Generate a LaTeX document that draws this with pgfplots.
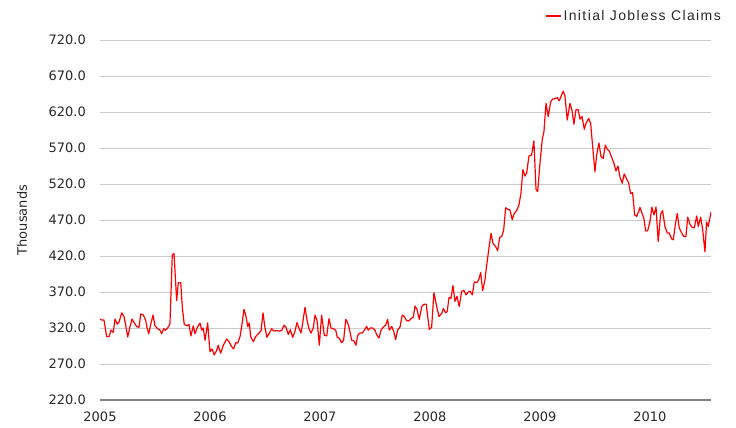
\documentclass[border=0pt]{standalone}
\usepackage{fontspec}
\setmainfont{DejaVu Sans}
\newfontfamily\legfont[LetterSpace=10]{Liberation Sans}
\usepackage{pgfplots}
\pgfplotsset{compat=1.18}
\usepackage{pgfplotstable}
\definecolor{gridgray}{RGB}{204,204,204}
\definecolor{axisgray}{RGB}{128,128,128}
\definecolor{txtgray}{RGB}{40,40,40}
\pgfplotstableread{
x y
2005.000 332.5
2005.015 331
2005.036 331
2005.061 308
2005.082 308
2005.100 317
2005.121 314
2005.136 332.5
2005.157 325.5
2005.173 328
2005.197 341
2005.218 336
2005.234 324
2005.252 307.5
2005.273 322
2005.291 332.5
2005.312 327
2005.334 322
2005.355 321
2005.370 339.5
2005.394 338
2005.415 331
2005.427 321
2005.443 312
2005.464 327
2005.482 338
2005.500 323
2005.525 319
2005.545 317
2005.561 312
2005.579 319
2005.597 317
2005.615 320
2005.636 325.5
2005.657 421
2005.673 423.7
2005.697 358
2005.712 383
2005.734 383
2005.748 349.6
2005.766 325
2005.788 323
2005.809 325
2005.827 309
2005.848 323
2005.864 312
2005.885 321
2005.909 327
2005.925 317
2005.939 320
2005.955 303
2005.979 327
2006.000 287
2006.018 291
2006.039 282.5
2006.061 289
2006.075 296
2006.097 285
2006.121 296
2006.152 304.7
2006.173 301
2006.197 294
2006.215 291
2006.234 299.6
2006.252 299
2006.273 308
2006.288 322
2006.309 346
2006.325 338
2006.343 322
2006.357 327
2006.370 308
2006.394 301
2006.415 308
2006.439 312
2006.464 316
2006.482 341
2006.500 320
2006.518 307
2006.539 313
2006.561 319
2006.582 315.6
2006.606 316.6
2006.627 315.6
2006.652 316.6
2006.673 324
2006.691 321
2006.712 311
2006.730 317.6
2006.752 307
2006.773 315.6
2006.791 327.5
2006.809 320
2006.827 313
2006.843 327
2006.864 348.7
2006.882 331
2006.900 319
2006.918 313
2006.939 320
2006.955 338
2006.973 331
2006.994 296
2007.015 338
2007.039 310
2007.061 309
2007.082 333
2007.100 320
2007.121 319
2007.143 317
2007.157 307
2007.175 306
2007.197 299.6
2007.215 303
2007.234 332
2007.252 327
2007.266 320
2007.288 303
2007.309 302
2007.327 296
2007.343 310
2007.364 313
2007.385 313
2007.403 317
2007.425 322
2007.439 317
2007.457 320
2007.479 320
2007.500 317
2007.518 310
2007.536 306
2007.555 317
2007.575 321
2007.597 324
2007.615 332
2007.630 317
2007.652 322
2007.670 315.6
2007.688 304
2007.706 317
2007.727 321
2007.748 338
2007.766 336
2007.788 330
2007.809 330
2007.827 333
2007.848 335
2007.864 350.6
2007.882 346
2007.903 332
2007.925 349.6
2007.945 353
2007.966 353
2007.994 318
2008.015 321
2008.036 369
2008.061 350
2008.082 336
2008.106 340
2008.121 347
2008.143 341
2008.157 343
2008.173 362.6
2008.191 361
2008.209 379
2008.227 357
2008.245 364
2008.266 350
2008.288 371
2008.309 372
2008.327 366
2008.348 370
2008.366 371
2008.385 366
2008.403 384
2008.425 383
2008.443 387
2008.461 397
2008.479 372
2008.500 387
2008.518 410
2008.536 430.7
2008.555 451.5
2008.573 437.6
2008.597 433
2008.615 427.5
2008.634 446
2008.652 447
2008.670 456
2008.688 487
2008.706 485
2008.727 484
2008.748 470.5
2008.766 479
2008.788 483
2008.809 491
2008.827 507
2008.845 540
2008.864 531
2008.879 535
2008.900 559
2008.923 560
2008.945 580
2008.964 512.6
2008.979 509.5
2009.000 548.7
2009.021 582
2009.036 592.5
2009.055 632
2009.075 613.5
2009.097 634
2009.115 638
2009.136 638.5
2009.157 640
2009.175 635.6
2009.197 643.6
2009.212 649
2009.227 642
2009.248 609
2009.273 632
2009.291 622.6
2009.309 603
2009.327 623
2009.348 623
2009.364 610
2009.382 614
2009.403 596
2009.418 604
2009.443 611
2009.461 604
2009.479 572
2009.500 537
2009.515 560
2009.536 577
2009.555 558
2009.575 555.6
2009.594 574
2009.612 568
2009.630 566
2009.652 557
2009.673 548.7
2009.691 538
2009.709 545
2009.727 530
2009.748 521
2009.766 534
2009.788 527
2009.806 521.6
2009.824 507
2009.842 508
2009.861 477
2009.879 475
2009.900 483
2009.909 487.6
2009.945 472
2009.961 454.7
2009.979 455
2010.000 468
2010.018 488
2010.036 477
2010.055 488
2010.075 440
2010.097 478
2010.115 483
2010.136 461
2010.157 452
2010.175 452
2010.197 443.6
2010.212 442.6
2010.230 463
2010.248 479
2010.266 459
2010.288 452
2010.309 447
2010.327 447
2010.343 474
2010.364 464
2010.382 460
2010.403 459
2010.425 475.6
2010.439 461
2010.461 474
2010.479 457
2010.500 426
2010.515 467
2010.530 461
2010.555 481
}\claims
\begin{document}
\begin{tikzpicture}
\useasboundingbox (0,0) rectangle (736bp,428bp);
\begin{axis}[
  at={(100bp,28bp)}, anchor=south west,
  scale only axis,
  width=611bp, height=360bp,
  xmin=2005, xmax=2010.555,
  ymin=220, ymax=720,
  xtick={2005,2006,2007,2008,2009,2010},
  xticklabels={2005,2006,2007,2008,2009,2010},
  ytick={220,270,320,370,420,470,520,570,620,670,720},
  y tick label style={/pgf/number format/fixed, /pgf/number format/fixed zerofill, /pgf/number format/precision=1, /pgf/number format/assume math mode=true},
  major tick length=0pt,
  ymajorgrids,
  grid style={gridgray, line width=1bp},
  separate axis lines,
  axis x line*=bottom,
  axis y line*=left,
  y axis line style={draw=none},
  x axis line style={axisgray, line width=1.6bp, -},
  tick label style={font=\fontsize{13bp}{15bp}\selectfont, text=txtgray, inner sep=0pt},
  yticklabel style={anchor=east, xshift=-14bp},
  xticklabel style={anchor=north, yshift=-12bp},
  ylabel={Thousands},
  ylabel style={at={(axis description cs:-0.1277,0.5)}, anchor=center, font=\fontsize{13bp}{15bp}\selectfont, text=txtgray},
  legend style={draw=none, fill=none, inner sep=0pt, at={(axis description cs:1,1)}, anchor=east, xshift=12bp, yshift=24bp, font=\legfont\fontsize{14bp}{16bp}\selectfont, text=txtgray},
  legend cell align=left,
  legend image code/.code={\draw[#1, line width=1.2bp] (0bp,0bp) -- (12bp,0bp); \path (0bp,0bp) -- (15bp,0bp);},
]
\addplot[color=red, line width=1.2bp, line join=round, mark=none] table[x=x, y=y] {\claims};
\addlegendentry{Initial Jobless Claims}
\end{axis}
\end{tikzpicture}
\end{document}
